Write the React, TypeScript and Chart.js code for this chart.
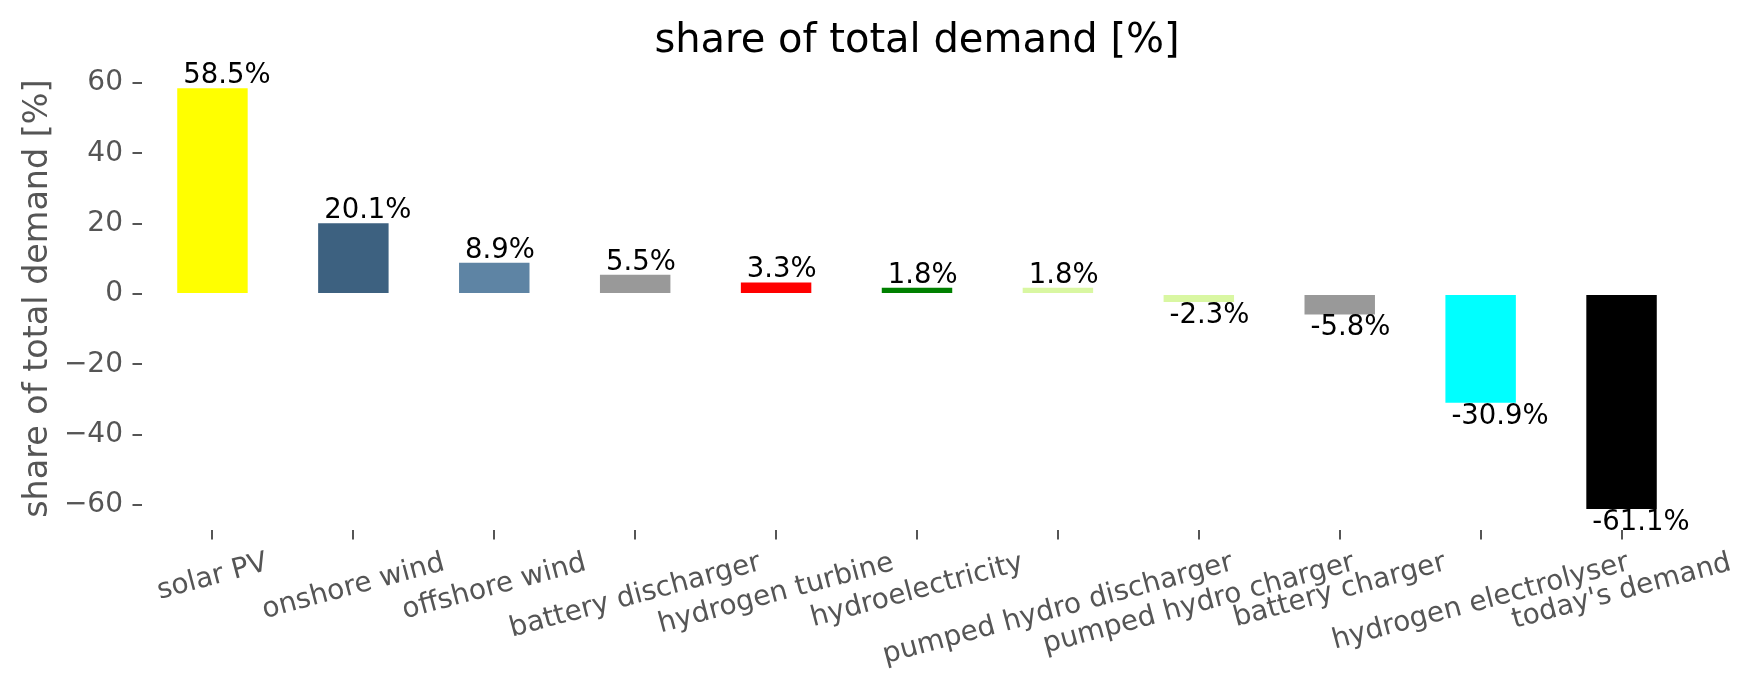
import { useEffect, useRef } from 'react';
import { Chart, registerables } from 'chart.js';

Chart.register(...registerables);

const CATEGORIES = [
  'solar PV',
  'onshore wind',
  'offshore wind',
  'battery discharger',
  'hydrogen turbine',
  'hydroelectricity',
  'pumped hydro discharger',
  'pumped hydro charger',
  'battery charger',
  'hydrogen electrolyser',
  "today's demand",
];
const SHARES = [58.5, 20.1, 8.9, 5.5, 3.3, 1.8, 1.8, -2.3, -5.8, -30.9, -61.1];
const COLORS = [
  '#ffff00',
  '#3d6180',
  '#5e84a4',
  '#999999',
  '#ff0000',
  '#008000',
  '#d9f7a2',
  '#d9f7a2',
  '#999999',
  '#00ffff',
  '#000000',
];
const Y_TICKS = [-60, -40, -20, 0, 20, 40, 60];
const Y_MIN = -67.08;
const Y_MAX = 64.48;
const TITLE = 'share of total demand [%]';
const Y_LABEL = 'share of total demand [%]';

const FONT = 'DejaVu Sans';
const TICK_SIZE = 28;
const VALUE_SIZE = 27.5;
const TITLE_SIZE = 40;
const TICK_LEN = 9.5;
const TICK_PAD = 9.5;

// title centred over the plotting area (as matplotlib does)
const axesTitle = {
  id: 'axesTitle',
  afterDraw(chart: any) {
    const ctx = chart.ctx;
    const { left, right, top } = chart.chartArea;
    ctx.save();
    ctx.font = `${TITLE_SIZE}px "${FONT}"`;
    ctx.fillStyle = '#000000';
    ctx.textAlign = 'center';
    ctx.textBaseline = 'middle';
    ctx.fillText(TITLE, (left + right) / 2, top - 25.8);
    ctx.restore();
  },
};

const barLabels = {
  id: 'barLabels',
  afterDatasetsDraw(chart: any) {
    const ctx = chart.ctx;
    const meta = chart.getDatasetMeta(0);
    ctx.save();
    ctx.font = `${VALUE_SIZE}px "${FONT}"`;
    ctx.fillStyle = '#000000';
    ctx.textAlign = 'left';
    ctx.textBaseline = 'alphabetic';
    meta.data.forEach((el: any, i: number) => {
      const v = SHARES[i];
      const { x, y, width } = el.getProps(['x', 'y', 'width'], true);
      const left = x - width / 2 + 6;
      const ty = v >= 0 ? y - 5 : y + 21;
      ctx.fillText(v.toFixed(1) + '%', left, ty);
    });
    ctx.restore();
  },
};

const rotatedXLabels = {
  id: 'rotatedXLabels',
  afterDraw(chart: any) {
    const ctx = chart.ctx;
    const xs = chart.scales.x;
    const theta = (15 * Math.PI) / 180;
    const y0 = chart.chartArea.bottom + TICK_LEN + TICK_PAD;
    ctx.save();
    ctx.font = `${TICK_SIZE}px "${FONT}"`;
    ctx.fillStyle = '#555555';
    ctx.textAlign = 'center';
    ctx.textBaseline = 'alphabetic';
    CATEGORIES.forEach((label, i) => {
      const x = xs.getPixelForTick(i);
      const L = ctx.measureText(label).width;
      const H = TICK_SIZE;
      const bboxH = L * Math.sin(theta) + H * Math.cos(theta);
      ctx.save();
      ctx.translate(x, y0 + bboxH / 2);
      ctx.rotate(-theta);
      ctx.fillText(label, 0, 0.262 * TICK_SIZE);
      ctx.restore();
    });
    ctx.restore();
  },
};

export default function App() {
  const ref = useRef<HTMLCanvasElement | null>(null);

  useEffect(() => {
    if (!ref.current) return;
    Chart.defaults.font.family = FONT;
    const chart = new Chart(ref.current, {
      type: 'bar',
      data: {
        labels: CATEGORIES,
        datasets: [
          {
            data: SHARES,
            backgroundColor: COLORS,
            borderWidth: 0,
            barPercentage: 0.5,
            categoryPercentage: 1.0,
          },
        ],
      },
      options: {
        responsive: false,
        animation: false,
        devicePixelRatio: 1,
        layout: { padding: { left: 0, right: 61, top: 67.2, bottom: 0 } },
        plugins: {
          legend: { display: false },
          tooltip: { enabled: false },
          title: { display: false },
        },
        scales: {
          x: {
            type: 'category',
            offset: true,
            border: { display: false },
            grid: {
              display: true,
              offset: false,
              drawOnChartArea: false,
              drawTicks: true,
              tickLength: TICK_LEN,
              color: '#555555',
              lineWidth: 2,
            },
            ticks: { display: false },
            afterFit: (s: any) => {
              s.height = 159;
            },
          },
          y: {
            type: 'linear',
            min: Y_MIN,
            max: Y_MAX,
            border: { display: false },
            grid: {
              display: true,
              drawOnChartArea: false,
              drawTicks: true,
              tickLength: TICK_LEN,
              color: '#555555',
              lineWidth: 2,
            },
            afterBuildTicks: (s: any) => {
              s.ticks = Y_TICKS.map((v) => ({ value: v }));
            },
            ticks: {
              color: '#555555',
              padding: TICK_PAD,
              font: { family: FONT, size: TICK_SIZE },
              callback: (v: any) => String(v).replace('-', '\u2212'),
            },
            title: {
              display: true,
              text: Y_LABEL,
              color: '#555555',
              font: { family: FONT, size: 33.4 },
              padding: { top: 18, bottom: 0 },
            },
            afterFit: (s: any) => {
              s.width = 142;
            },
          },
        },
      },
      plugins: [barLabels, rotatedXLabels, axesTitle],
    });
    return () => chart.destroy();
  }, []);

  return (
    <div style={{ position: 'fixed', left: 0, top: 0, width: 1753, height: 689, background: '#ffffff' }}>
      <canvas ref={ref} width={1753} height={689} style={{ width: 1753, height: 689, display: 'block' }} />
    </div>
  );
}
